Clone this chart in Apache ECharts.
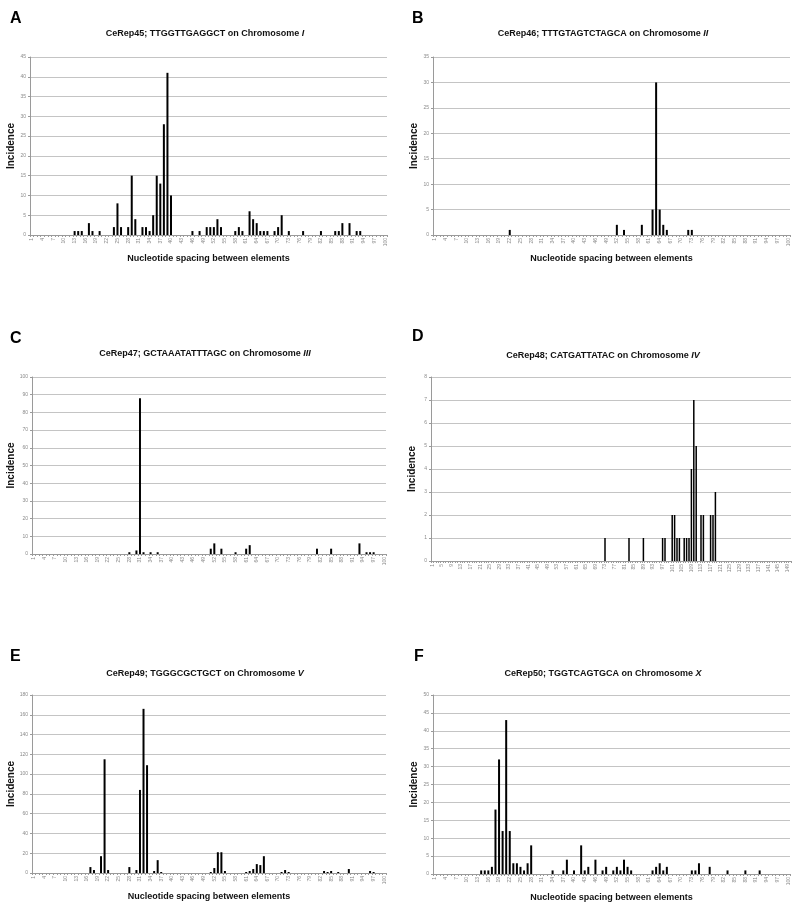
<!DOCTYPE html>
<html><head><meta charset="utf-8">
<script src="https://cdn.jsdelivr.net/npm/echarts@6/dist/echarts.min.js"></script>
<style>html,body{margin:0;padding:0;background:#fff}#c{width:800px;height:911px}</style>
</head><body><div id="c"></div>
<script>
// Panel A: CeRep45
const aSpacing = [13,14,15,17,18,20,24,25,26,28,29,30,32,33,34,35,36,37,38,39,40,46,48,50,51,52,53,54,58,59,60,62,63,64,65,66,67,69,70,71,73,77,82,86,87,88,90,92,93];
const aCount   = [1,1,1,3,1,1,2,8,2,2,15,4,2,2,1,5,15,13,28,41,10,1,1,2,2,2,4,2,1,2,1,6,4,3,1,1,1,1,2,5,1,1,1,1,1,3,3,1,1];
// Panel B: CeRep46
const bSpacing = [22,52,54,59,62,63,64,65,66,72,73];
const bCount   = [1,2,1,2,5,30,5,2,1,1,1];
// Panel C: CeRep47
const cSpacing = [28,30,31,32,34,36,51,52,54,58,61,62,81,85,93,95,96,97];
const cCount   = [1,2,88,1,1,1,3,6,3,1,3,5,3,3,6,1,1,1];
// Panel D: CeRep48
const dSpacing = [73,83,89,97,98,101,102,103,104,106,107,108,109,110,111,113,114,117,118,119];
const dCount   = [1,1,1,1,1,2,2,1,1,1,1,1,4,7,5,2,2,2,2,3];
// Panel E: CeRep49
const eSpacing = [17,18,20,21,22,28,30,31,32,33,35,36,37,51,52,53,54,55,61,62,63,64,65,66,71,72,73,83,84,85,87,90,96,97];
const eCount   = [6,3,17,115,3,6,3,84,166,109,2,13,1,1,5,21,21,2,1,2,4,9,8,17,1,3,1,2,1,2,1,4,2,1];
// Panel F: CeRep50
const fSpacing = [14,15,16,17,18,19,20,21,22,23,24,25,26,27,28,34,37,38,40,42,43,44,46,48,49,51,52,53,54,55,56,62,63,64,65,66,73,74,75,78,83,88,92];
const fCount   = [1,1,1,2,18,32,12,43,12,3,3,2,1,3,8,1,1,4,1,8,1,2,4,1,2,1,2,1,4,2,1,1,2,3,1,2,1,1,3,2,1,1,1];

const nCats100 = 100, nCatsD = 150;
const yMax = [45, 35, 100, 8, 180, 50];
const yStep = [5, 5, 10, 1, 20, 5];
const titles = [
  ['CeRep45; TTGGTTGAGGCT on Chromosome ', 'I'],
  ['CeRep46; TTTGTAGTCTAGCA on Chromosome ', 'II'],
  ['CeRep47; GCTAAATATTTAGC on Chromosome ', 'III'],
  ['CeRep48; CATGATTATAC on Chromosome ', 'IV'],
  ['CeRep49; TGGGCGCTGCT on Chromosome ', 'V'],
  ['CeRep50; TGGTCAGTGCA on Chromosome ', 'X']
];
const letters = ['A','B','C','D','E','F'];

function cats(n){ const r=[]; for(let i=1;i<=n;i++) r.push(String(i)); return r; }
function expand(sp, ct, n){ const r=new Array(n).fill(0); sp.forEach((s,i)=>{ r[s-1]=ct[i]; }); return r; }

const panels = [
  {sp:aSpacing, ct:aCount, n:nCats100},
  {sp:bSpacing, ct:bCount, n:nCats100},
  {sp:cSpacing, ct:cCount, n:nCats100},
  {sp:dSpacing, ct:dCount, n:nCatsD},
  {sp:eSpacing, ct:eCount, n:nCats100},
  {sp:fSpacing, ct:fCount, n:nCats100}
];
// layout
const grids = [
  {left:30, top:57, width:357, height:178},
  {left:433, top:57, width:357, height:178},
  {left:32, top:377, width:354, height:177},
  {left:431, top:377, width:360, height:184},
  {left:32, top:695, width:354, height:178},
  {left:433, top:695, width:357, height:179}
];
const titlePos = [[200,24],[598,24],[200,344],[598,346],[200,664],[598,664]];
const letterPos = [[5,6],[407,6],[5,326],[407,324],[5,644],[409,644]];
const FONT = 'Arial, "Liberation Sans", sans-serif';

const option = {
  animation:false,
  backgroundColor:'#fff',
  title: [],
  grid: grids.map(g=>Object.assign({containLabel:false}, g)),
  xAxis: [], yAxis: [], series: []
};
panels.forEach((p,i)=>{
  option.title.push({
    text:'{b|'+titles[i][0]+'}{i|'+titles[i][1]+'}',
    left:titlePos[i][0], top:titlePos[i][1], textAlign:'center',
    textStyle:{rich:{
      b:{fontFamily:FONT,fontWeight:'bold',fontSize:9,color:'#111'},
      i:{fontFamily:FONT,fontWeight:'bold',fontStyle:'italic',fontSize:9,color:'#111'}
    }}
  });
  option.title.push({
    text:letters[i], left:letterPos[i][0], top:letterPos[i][1],
    textStyle:{fontFamily:FONT,fontWeight:'bold',fontSize:16,color:'#000'}
  });
  const showX = i!==2 && i!==3;
  option.xAxis.push({
    type:'category', gridIndex:i, data:cats(p.n),
    name: showX ? 'Nucleotide spacing between elements' : '',
    nameLocation:'middle', nameGap:19,
    nameTextStyle:{fontFamily:FONT,fontWeight:'bold',fontSize:9,color:'#111'},
    axisLine:{lineStyle:{color:'#9a9a9a',width:1}},
    axisTick:{show:true,interval:0,length:2,lineStyle:{color:'#9a9a9a'}},
    axisLabel:{interval: p.n===150?3:2, rotate:90, fontSize:5, color:'#8a8a8a', margin:3, fontFamily:FONT},
    splitLine:{show:false}
  });
  option.yAxis.push({
    type:'value', gridIndex:i, min:0, max:yMax[i], interval:yStep[i],
    name:'Incidence', nameLocation:'middle', nameRotate:90, nameGap: 14,
    nameTextStyle:{fontFamily:FONT,fontWeight:'bold',fontSize:10,color:'#111'},
    axisLine:{show:true,lineStyle:{color:'#9a9a9a',width:1}},
    axisTick:{show:true,length:2,lineStyle:{color:'#9a9a9a'}},
    axisLabel:{fontSize:5,color:'#8a8a8a',margin:4,fontFamily:FONT},
    splitLine:{show:true,lineStyle:{color:'#c4c4c4',width:1}}
  });
  option.series.push({
    type:'bar', xAxisIndex:i, yAxisIndex:i,
    data:expand(p.sp,p.ct,p.n),
    barWidth: p.n===150?1.5:2,
    itemStyle:{color:'#000'},
    silent:true
  });
});
const chart = echarts.init(document.getElementById('c'), null, {renderer:'canvas'});
chart.setOption(option);
</script>
</body></html>
